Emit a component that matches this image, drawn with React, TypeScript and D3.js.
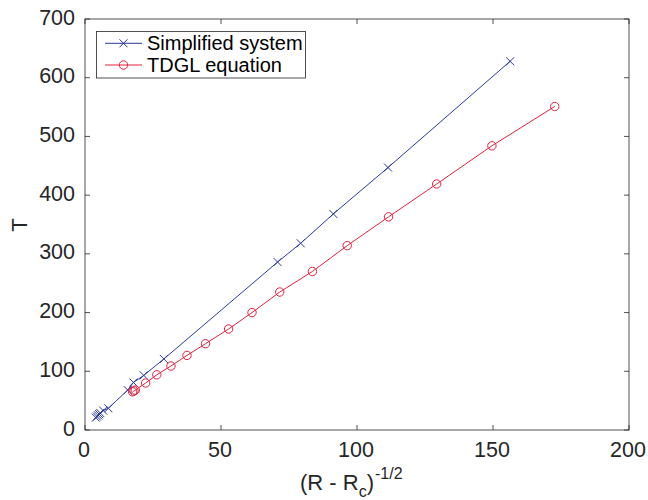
import React from "react";
import * as d3 from "d3";

const simpX = [4.0, 4.4, 4.8, 5.2, 5.6, 6.7, 8.6, 15.7, 17.8, 21.6, 29.0, 70.8, 79.3, 91.3, 111.4, 156.3];
const simpT = [21, 23, 25, 27, 29, 33, 37, 68, 81, 93, 121, 286, 318, 368, 447, 628];
const tdglX = [17.5, 18.0, 18.5, 22.3, 26.4, 31.6, 37.5, 44.3, 52.8, 61.4, 71.6, 83.6, 96.4, 111.6, 129.3, 149.6, 172.7];
const tdglT = [65, 66.5, 68, 80, 94, 109, 127, 147, 172, 200, 235, 270, 314, 363, 419, 484, 551];
const xTicks = [0, 50, 100, 150, 200];
const yTicks = [0, 100, 200, 300, 400, 500, 600, 700];
const seriesNames = ["Simplified system", "TDGL equation"];

const W = 648, H = 500;
const L = 85, R = 629, T = 19, B = 430;
const BLUE = "#2b3a9a";
const RED = "#e3213f";
const AX = "#262626";
const FONT = "'Liberation Sans', Arial, Helvetica, sans-serif";

export default function App() {
  const x = d3.scaleLinear().domain([0, 200]).range([L, R]);
  const y = d3.scaleLinear().domain([0, 700]).range([B, T]);
  const line = d3.line<[number, number]>().x(d => x(d[0])).y(d => y(d[1]));
  const simp: [number, number][] = simpX.map((v, i) => [v, simpT[i]]);
  const tdgl: [number, number][] = tdglX.map((v, i) => [v, tdglT[i]]);
  const tl = 5;
  const cross = (cx: number, cy: number, c: string, k: string) => (
    <path key={k} d={`M${cx - 4},${cy - 4}L${cx + 4},${cy + 4}M${cx - 4},${cy + 4}L${cx + 4},${cy - 4}`} stroke={c} strokeWidth={1} fill="none" />
  );
  return (
    <svg width={W} height={H} style={{ position: "absolute", left: 0, top: 0, background: "#fff" }} fontFamily={FONT}>
      <rect x={0} y={0} width={W} height={H} fill="#fff" />
      {/* data */}
      <path d={line(simp) || ""} stroke={BLUE} strokeWidth={1} fill="none" />
      <path d={line(tdgl) || ""} stroke={RED} strokeWidth={1} fill="none" />
      {simp.map((d, i) => cross(x(d[0]), y(d[1]), BLUE, "s" + i))}
      {tdgl.map((d, i) => (
        <circle key={"t" + i} cx={x(d[0])} cy={y(d[1])} r={4.2} stroke={RED} strokeWidth={1} fill="none" />
      ))}
      {/* axes box */}
      <rect x={L} y={T} width={R - L} height={B - T} fill="none" stroke={AX} strokeWidth={0.8} />
      {xTicks.map(t => (
        <g key={"xt" + t}>
          <line x1={x(t)} x2={x(t)} y1={B} y2={B - tl} stroke={AX} strokeWidth={0.8} />
          <line x1={x(t)} x2={x(t)} y1={T} y2={T + tl} stroke={AX} strokeWidth={0.8} />
          <text x={x(t) - 1} y={456.5} textAnchor="middle" fontSize={21.5} fill={AX}>{t}</text>
        </g>
      ))}
      {yTicks.map(t => (
        <g key={"yt" + t}>
          <line x1={L} x2={L + tl} y1={y(t)} y2={y(t)} stroke={AX} strokeWidth={0.8} />
          <line x1={R} x2={R - tl} y1={y(t)} y2={y(t)} stroke={AX} strokeWidth={0.8} />
          <text x={75} y={y(t) + 5.5} textAnchor="end" fontSize={21.5} fill={AX}>{t}</text>
        </g>
      ))}
      {/* axis labels */}
      <text transform="translate(27,225) rotate(-90)" textAnchor="middle" fontSize={22} fill={AX}>T</text>
      <text x={300} y={490} fontSize={22} fill={AX}>
        (R - R<tspan fontSize={16} dy={7}>c</tspan><tspan dy={-7}>)</tspan><tspan fontSize={16} dx={1} dy={-11}>-1/2</tspan>
      </text>
      {/* legend */}
      <rect x={96.5} y={31.5} width={209} height={46.5} fill="#fff" stroke={AX} strokeWidth={0.8} />
      <line x1={105} x2={142} y1={43.3} y2={43.3} stroke={BLUE} strokeWidth={1} />
      {cross(123.5, 43.3, BLUE, "lg")}
      <text x={147} y={50} fontSize={20} fill="#000">{seriesNames[0]}</text>
      <line x1={105} x2={142} y1={65} y2={65} stroke={RED} strokeWidth={1} />
      <circle cx={123.5} cy={65} r={4.2} stroke={RED} strokeWidth={1} fill="none" />
      <text x={147} y={71.5} fontSize={20} fill="#000">{seriesNames[1]}</text>
    </svg>
  );
}
